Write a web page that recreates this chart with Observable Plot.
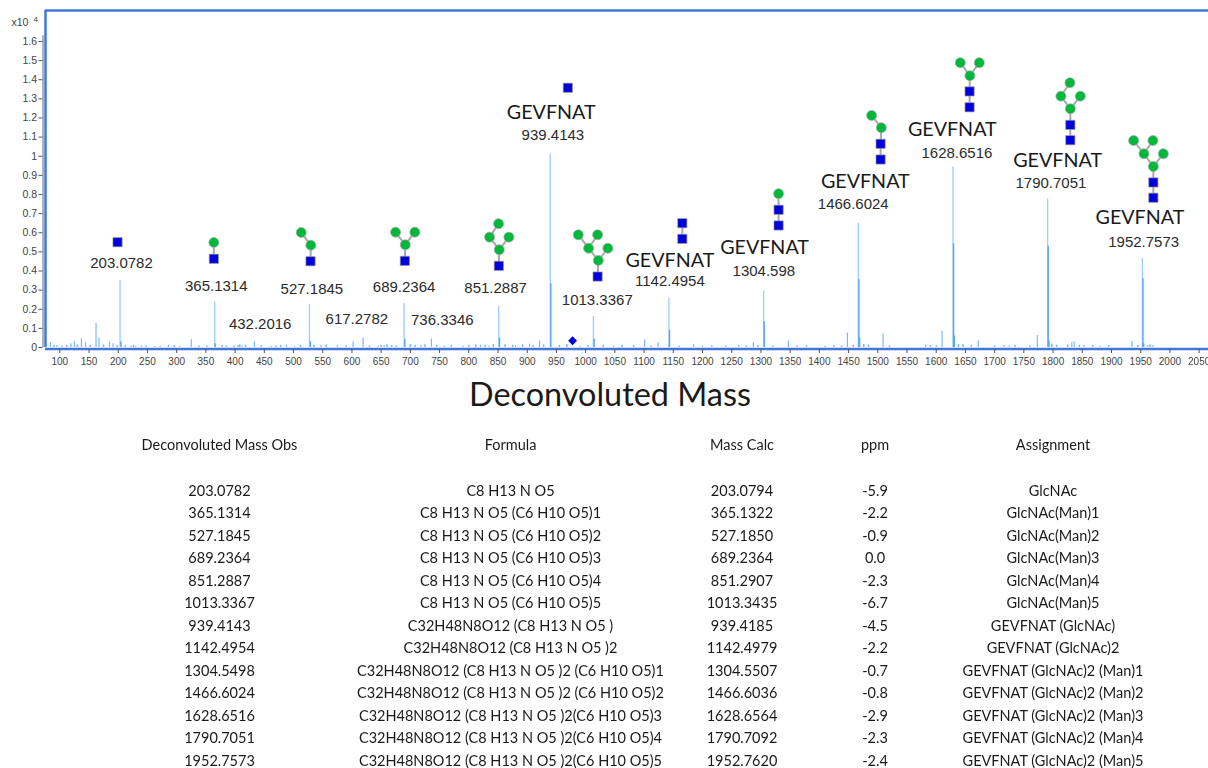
<!DOCTYPE html>
<html>
<head>
<meta charset="utf-8">
<script src="https://cdn.jsdelivr.net/npm/d3@7"></script>
<script src="https://cdn.jsdelivr.net/npm/@observablehq/plot@0.6"></script>
<style>
html,body{margin:0;padding:0;background:#fff;overflow:hidden}
#chart svg{display:block;filter:blur(.35px)}
#table{position:relative;width:1208px;height:348px;font-family:Lato,"Open Sans",sans-serif;font-size:14.5px;color:#1a1a1a;filter:blur(.25px)}
#table span{position:absolute;transform:translate(-50%,-50%);white-space:nowrap}
</style>
</head>
<body>
<div id="chart"></div>
<div id="table"></div>
<script>
// Spectrum: tall, pale profile of each peak (mass, intensity x10^4)
const peakMass = [203.1,365.1,527.2,689.2,851.3,939.4,1013.3,1142.5,1304.6,1466.6,1628.7,1790.7,1952.8];
const peakIntensity = [0.352,0.237,0.225,0.230,0.215,1.013,0.162,0.257,0.295,0.650,0.944,0.776,0.464];
// Stronger, lower isotope traces beside the main peaks
const isotopeMass = [204.5,366,529,690.5,852.5,940.4,1014.5,1143.5,1305.6,1467.6,1629.7,1791.7,1953.8,1468.8,1631,1793,1955];
const isotopeIntensity = [0.03,0.02,0.03,0.045,0.05,0.333,0.045,0.09,0.135,0.355,0.543,0.53,0.36,0.05,0.06,0.035,0.02];
// Small peaks
const minorMass = [84,95,119,125,137,144,162,167,185,191,222,230,240,263,286,305,325,385,405,412,433,462,488,502,547,575,602,619,645,655,718,736,758,790,820,835,880,904,921,990,1048,1101,1124,1185,1216,1262,1287,1347,1378,1425,1448,1509,1582,1600,1610,1672,1716,1725,1773,1832,1836,1853,1880,1935,1962,1971];
const minorIntensity = [0.025,0.01,0.02,0.03,0.045,0.025,0.125,0.05,0.03,0.02,0.007,0.006,0.008,0.005,0.012,0.005,0.04,0.008,0.01,0.008,0.03,0.005,0.012,0.005,0.012,0.008,0.03,0.05,0.006,0.01,0.012,0.045,0.006,0.006,0.012,0.007,0.009,0.018,0.035,0.006,0.006,0.04,0.025,0.015,0.01,0.01,0.025,0.035,0.01,0.012,0.075,0.07,0.012,0.012,0.085,0.035,0.01,0.008,0.063,0.025,0.03,0.01,0.006,0.033,0.01,0.01];
// Low grass along the baseline
const grassMass = [90,104,112,130,152,175,198,212,226,248,272,296,338,352,378,398,408,418,445,470,478,512,535,556,590,630,650,660,668,676,700,708,725,745,770,800,812,828,842,862,875,892,910,928,955,968,1004,1030,1062,1082,1112,1160,1200,1240,1275,1295,1320,1362,1410,1438,1458,1476,1484,1520,1590,1638,1646,1660,1700,1735,1760,1798,1806,1825,1845,1868,1895,1945,1966];
const grassIntensity = [0.012,0.008,0.01,0.014,0.012,0.014,0.012,0.01,0.012,0.008,0.006,0.01,0.008,0.008,0.01,0.008,0.014,0.012,0.01,0.008,0.012,0.01,0.012,0.014,0.008,0.008,0.012,0.014,0.01,0.008,0.016,0.012,0.014,0.012,0.01,0.012,0.014,0.012,0.016,0.014,0.012,0.014,0.012,0.014,0.012,0.016,0.01,0.012,0.012,0.01,0.008,0.008,0.006,0.006,0.008,0.01,0.008,0.008,0.006,0.008,0.012,0.016,0.014,0.008,0.01,0.016,0.016,0.01,0.008,0.012,0.008,0.018,0.012,0.014,0.012,0.01,0.01,0.01,0.014];

// Axis ticks
const xTicks = d3.range(100,2051,50);
const yTicks = [0,0.1,0.2,0.3,0.4,0.5,0.6,0.7,0.8,0.9,1,1.1,1.2,1.3,1.4,1.5,1.6];

// Peak annotations placed on the mass / intensity scales
const massLabels = ["203.0782","365.1314","527.1845","689.2364","432.2016","617.2782","736.3346","851.2887","939.4143","1013.3367","1142.4954","1304.598","1466.6024","1628.6516","1790.7051","1952.7573"];
const massLabelX = [205.6,367.7,531.4,689.2,442.9,608.4,754.6,845.8,943.9,1019.9,1144.1,1305,1458,1635.4,1796.3,1955];
const massLabelY = [0.439,0.3205,0.305,0.315,0.12,0.148,0.141,0.312,1.110,0.246,0.347,0.397,0.749,1.016,0.859,0.553];
const peptideX = [941.1,1144.1,1306.2,1478.6,1627.5,1807.8,1948.6];
const peptideY = [1.227,0.456,0.524,0.866,1.141,0.979,0.680];

// Glycan residues: mass-axis position, intensity-axis position
const squareX = [198.8,363.6,529.1,690.5,851.4,969.5,1020.4,1165.4,1165.4,1330.2,1330.2,1504.8,1504.8,1657.1,1657.1,1829.5,1829.5,1971.6,1971.6];
const squareY = [0.5506,0.4638,0.451,0.453,0.427,1.358,0.371,0.650,0.568,0.720,0.638,1.065,0.983,1.339,1.256,1.164,1.084,0.863,0.783];
const circleX = [363.6,513.2,529.6,674.6,707.6,691.2,850.9,835.5,868.6,852.1,987.3,1020.4,1005,1038,1021.6,1330.2,1489.4,1506,1641.2,1673.7,1657.6,1828.8,1813.4,1846.6,1829.5,1937.8,1970.9,1955.5,1988.7,1971.6];
const circleY = [0.549,0.601,0.535,0.603,0.603,0.537,0.647,0.577,0.577,0.511,0.589,0.589,0.519,0.519,0.455,0.804,1.213,1.149,1.489,1.489,1.421,1.384,1.314,1.314,1.248,1.082,1.082,1.013,1.013,0.946];
const diamondX = [977.6];
const diamondY = [0.035];
// Bonds between residues: [x1, y1, x2, y2]
const bonds = [
[363.6,0.549,363.6,0.4638],
[513.2,0.601,529.6,0.535],[529.6,0.535,529.1,0.451],
[674.6,0.603,691.2,0.537],[707.6,0.603,691.2,0.537],[691.2,0.537,690.5,0.453],
[850.9,0.647,835.5,0.577],[835.5,0.577,852.1,0.511],[868.6,0.577,852.1,0.511],[852.1,0.511,851.4,0.427],
[987.3,0.589,1005,0.519],[1020.4,0.589,1005,0.519],[1005,0.519,1021.6,0.455],[1038,0.519,1021.6,0.455],[1021.6,0.455,1020.4,0.371],
[1165.4,0.650,1165.4,0.568],
[1330.2,0.804,1330.2,0.720],[1330.2,0.720,1330.2,0.638],
[1489.4,1.213,1506,1.149],[1506,1.149,1504.8,1.065],[1504.8,1.065,1504.8,0.983],
[1641.2,1.489,1657.6,1.421],[1673.7,1.489,1657.6,1.421],[1657.6,1.421,1657.1,1.339],[1657.1,1.339,1657.1,1.256],
[1828.8,1.384,1813.4,1.314],[1813.4,1.314,1829.5,1.248],[1846.6,1.314,1829.5,1.248],[1829.5,1.248,1829.5,1.164],[1829.5,1.164,1829.5,1.084],
[1937.8,1.082,1955.5,1.013],[1970.9,1.082,1955.5,1.013],[1955.5,1.013,1971.6,0.946],[1988.7,1.013,1971.6,0.946],[1971.6,0.946,1971.6,0.863],[1971.6,0.863,1971.6,0.783]
];

// Table
const tableHeader = ["Deconvoluted Mass Obs","Formula","Mass Calc","ppm","Assignment"];
const massObs = ["203.0782","365.1314","527.1845","689.2364","851.2887","1013.3367","939.4143","1142.4954","1304.5498","1466.6024","1628.6516","1790.7051","1952.7573"];
const formula = ["C8 H13 N O5","C8 H13 N O5 (C6 H10 O5)1","C8 H13 N O5 (C6 H10 O5)2","C8 H13 N O5 (C6 H10 O5)3","C8 H13 N O5 (C6 H10 O5)4","C8 H13 N O5 (C6 H10 O5)5","C32H48N8O12 (C8 H13 N O5 )","C32H48N8O12 (C8 H13 N O5 )2","C32H48N8O12 (C8 H13 N O5 )2 (C6 H10 O5)1","C32H48N8O12 (C8 H13 N O5 )2 (C6 H10 O5)2","C32H48N8O12 (C8 H13 N O5 )2(C6 H10 O5)3","C32H48N8O12 (C8 H13 N O5 )2(C6 H10 O5)4","C32H48N8O12 (C8 H13 N O5 )2(C6 H10 O5)5"];
const massCalc = ["203.0794","365.1322","527.1850","689.2364","851.2907","1013.3435","939.4185","1142.4979","1304.5507","1466.6036","1628.6564","1790.7092","1952.7620"];
const ppm = ["-5.9","-2.2","-0.9","0.0","-2.3","-6.7","-4.5","-2.2","-0.7","-0.8","-2.9","-2.3","-2.4"];
const assignment = ["GlcNAc","GlcNAc(Man)1","GlcNAc(Man)2","GlcNAc(Man)3","GlcNAc(Man)4","GlcNAc(Man)5","GEVFNAT (GlcNAc)","GEVFNAT (GlcNAc)2","GEVFNAT (GlcNAc)2 (Man)1","GEVFNAT (GlcNAc)2 (Man)2","GEVFNAT (GlcNAc)2 (Man)3","GEVFNAT (GlcNAc)2 (Man)4","GEVFNAT (GlcNAc)2 (Man)5"];

const XMIN = 75.5, XMAX = 2066, YTOP = 1.762;
const frameBlue = "#3f78d8";
const pts = (xs, ys) => xs.map((x,i)=>({x, y:ys[i]}));

const plot = Plot.plot({
  width: 1208, height: 420,
  marginLeft: 45, marginRight: 0, marginTop: 10, marginBottom: 73,
  style: {background:"#fff", overflow:"visible"},
  x: {domain:[XMIN,XMAX], ticks:xTicks},
  y: {domain:[0,YTOP]},
  marks: [
    Plot.ruleX(pts(grassMass,grassIntensity),{x:"x",y:"y",stroke:"#7db8f8",strokeWidth:1.5}),
    Plot.ruleX(pts(minorMass,minorIntensity),{x:"x",y:"y",stroke:"#7db8f8",strokeWidth:1.2}),
    Plot.ruleX(pts(peakMass,peakIntensity),{x:"x",y:"y",stroke:"#9ccdfc",strokeWidth:1.3}),
    Plot.ruleX(pts(isotopeMass,isotopeIntensity),{x:"x",y:"y",stroke:"#5aa6f5",strokeWidth:1.4}),
    // frame
    Plot.ruleY([YTOP],{x1:XMIN,x2:XMAX,stroke:frameBlue,strokeWidth:2.5}),
    Plot.ruleY([0],{x1:XMIN,x2:XMAX,stroke:frameBlue,strokeWidth:2.5,dy:1.5}),
    Plot.ruleX([XMIN],{y1:0,y2:YTOP,stroke:frameBlue,strokeWidth:2.5}),
    // axes
    Plot.ruleX([XMIN],{y1:0,y2:1.63,stroke:"#666",strokeWidth:1,dx:-2.5}),
    Plot.axisY(yTicks,{anchor:"left",label:null,tickSize:4,tickPadding:2,dx:-2.5,fontSize:10.5,stroke:"#555",tickFormat:d=>String(d),fill:"#444",fontFamily:"Liberation Sans"}),
    Plot.axisX(xTicks,{anchor:"bottom",label:null,tickSize:4,tickPadding:4,dy:2,fontSize:10,stroke:"#555",fill:"#444",tickFormat:d=>String(d),fontFamily:"Liberation Sans"}),
    // multiplier
    Plot.text(["x10"],{x:XMIN,y:YTOP,frameAnchor:"top-left",dx:-34,dy:8,fontSize:10.5,textAnchor:"start",fill:"#444",fontFamily:"Liberation Sans"}),
    Plot.text(["4"],{x:XMIN,y:YTOP,frameAnchor:"top-left",dx:-12,dy:6,fontSize:8,textAnchor:"start",fill:"#444",fontFamily:"Liberation Sans"}),
    // glycan bonds and residues
    Plot.link(bonds,{x1:d=>d[0],y1:d=>d[1],x2:d=>d[2],y2:d=>d[3],stroke:"#a8a8a8",strokeWidth:2}),
    Plot.dot(pts(circleX,circleY),{x:"x",y:"y",r:5,fill:"#00b93a",stroke:"#a9a9a9",strokeWidth:.7,symbol:"circle"}),
    Plot.dot(pts(squareX,squareY),{x:"x",y:"y",r:5.2,fill:"#0000dc",stroke:"#999",strokeWidth:.7,symbol:"square"}),
    Plot.dot(pts(diamondX,diamondY),{x:"x",y:"y",r:4,fill:"#0000e0",symbol:"diamond2",stroke:"none"}),
    // annotations
    Plot.text(massLabels,{x:(d,i)=>massLabelX[i],y:(d,i)=>massLabelY[i],text:d=>d,fontSize:15,fill:"#2b2b2b",fontFamily:"Liberation Sans",textAnchor:"middle"}),
    Plot.text(pts(peptideX,peptideY),{x:"x",y:"y",text:()=>"GEVFNAT",fontSize:19.7,fill:"#1a1a1a",fontFamily:"Lato",textAnchor:"middle"}),
    // axis title
    Plot.text(["Deconvoluted Mass"],{x:(XMIN+XMAX)/2,y:0,frameAnchor:"bottom",text:d=>d,dx:-17,dy:58,fontSize:32.4,fill:"#1a1a1a",fontFamily:"Lato",textAnchor:"middle"})
  ]
});
document.getElementById("chart").appendChild(plot);

// table below the chart
const colX = [219.5,510.5,742,875,1053];
const columns = [massObs,formula,massCalc,ppm,assignment];
const tbl = document.getElementById("table");
const addCell = (txt,x,y)=>{const s=document.createElement("span");s.textContent=txt;s.style.left=x+"px";s.style.top=y+"px";tbl.appendChild(s);};
tableHeader.forEach((h,c)=>addCell(h,colX[c],23.5));
massObs.forEach((_,r)=>columns.forEach((col,c)=>addCell(col[r],colX[c],69.5+r*22.5)));
</script>
</body>
</html>
